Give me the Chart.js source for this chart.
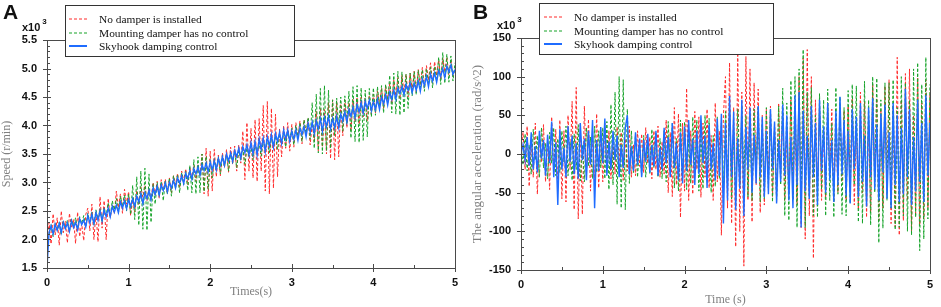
<!DOCTYPE html>
<html>
<head>
<meta charset="utf-8">
<script src="https://cdn.jsdelivr.net/npm/chart.js@4.4.1/dist/chart.umd.min.js"></script>
<style>
  body { margin: 0; background: #fff; }
  #wrap { position: relative; width: 941px; height: 307px; overflow: hidden; }
  canvas { position: absolute; top: 0; }
  .tag { position: absolute; font: bold 21px "Liberation Sans", Arial, sans-serif; color: #111; }
  .mult { position: absolute; font: bold 11px "Liberation Sans", Arial, sans-serif; color: #111; }
  .mult sup { font-size: 8px; position: relative; top: -2px; margin-left: 2px; }
  .legend { position: absolute; background: #fff; border: 1px solid #333; box-sizing: border-box; }
  .legend .row { position: absolute; height: 14px; display: flex; align-items: center;
    font: 11.4px "Liberation Serif", "Times New Roman", serif; color: #111; white-space: nowrap; }
  .legend svg { display: block; }
</style>
</head>
<body>
<div id="wrap">
  <canvas id="speed" width="470" height="307" style="left:0"></canvas>
  <canvas id="accel" width="471" height="307" style="left:470px"></canvas>

  <div class="tag" style="left:3px;top:0px">A</div>
  <div class="tag" style="left:473px;top:0px">B</div>
  <div class="mult" style="left:22px;top:19px">x10<sup>3</sup></div>
  <div class="mult" style="left:497px;top:17px">x10<sup>3</sup></div>

  <div class="legend" style="left:65px;top:5px;width:230px;height:52px">
    <div class="row" style="left:3px;top:6px"><svg width="18" height="4"><line x1="0" y1="2" x2="18" y2="2" stroke="#ff2a2a" stroke-dasharray="3 2"/></svg><span style="margin-left:12px">No damper is installed</span></div>
    <div class="row" style="left:3px;top:20px"><svg width="18" height="4"><line x1="0" y1="2" x2="18" y2="2" stroke="#16a329" stroke-dasharray="3 2"/></svg><span style="margin-left:12px">Mounting damper has no control</span></div>
    <div class="row" style="left:3px;top:33px"><svg width="18" height="4"><line x1="0" y1="2" x2="18" y2="2" stroke="#1f6cff" stroke-width="2"/></svg><span style="margin-left:12px">Skyhook damping control</span></div>
  </div>
  <div class="legend" style="left:539px;top:3px;width:235px;height:52px">
    <div class="row" style="left:4px;top:6px"><svg width="18" height="4"><line x1="0" y1="2" x2="18" y2="2" stroke="#ff2a2a" stroke-dasharray="3 2"/></svg><span style="margin-left:12px">No damper is installed</span></div>
    <div class="row" style="left:4px;top:20px"><svg width="18" height="4"><line x1="0" y1="2" x2="18" y2="2" stroke="#16a329" stroke-dasharray="3 2"/></svg><span style="margin-left:12px">Mounting damper has no control</span></div>
    <div class="row" style="left:4px;top:33px"><svg width="18" height="4"><line x1="0" y1="2" x2="18" y2="2" stroke="#1f6cff" stroke-width="2"/></svg><span style="margin-left:12px">Skyhook damping control</span></div>
  </div>
</div>

<script>
// sampling grid, 0..5 s every 0.025 s (201 samples)
const times = Array.from({length: 201}, (_, i) => +(i * 0.025).toFixed(3));

// panel A: speed, x10^3 r/min (one row = 0.5 s)
const speedNoDamper = [
  2.00, 2.30, 1.92, 2.45, 2.08, 2.38, 1.90, 2.50, 2.12, 2.32, 1.94, 2.46, 2.20, 2.36, 1.93, 2.48, 2.05, 2.28, 1.98, 2.44,
  2.55, 2.15, 2.62, 2.00, 2.48, 1.96, 2.75, 2.20, 2.68, 2.00, 2.72, 2.38, 2.60, 2.45, 2.85, 2.56, 2.80, 2.46, 2.88, 2.62,
  2.84, 2.42, 2.70, 2.48, 2.86, 2.60, 2.92, 2.74, 2.95, 2.68, 2.88, 2.70, 3.00, 2.78, 3.02, 2.72, 3.05, 2.86, 3.06, 2.80,
  3.08, 2.82, 3.12, 2.96, 3.16, 2.90, 3.20, 3.02, 3.24, 2.96, 3.28, 3.06, 3.30, 3.02, 3.32, 3.12, 3.50, 2.80, 3.60, 2.76,
  3.55, 2.85, 3.58, 3.10, 3.48, 3.12, 3.52, 3.26, 3.58, 3.18, 3.62, 3.32, 3.64, 3.20, 3.66, 3.34, 3.90, 3.05, 4.05, 3.20,
  3.95, 3.08, 4.10, 3.02, 4.12, 3.20, 4.35, 2.85, 4.42, 2.80, 4.30, 2.90, 4.20, 3.10, 3.95, 3.45, 4.00, 3.60, 4.05, 3.55,
  4.02, 3.62, 4.05, 3.78, 4.08, 3.68, 4.10, 3.84, 4.12, 3.66, 4.04, 3.72, 4.25, 3.55, 4.30, 3.62, 4.28, 3.50, 4.40, 3.42,
  4.45, 3.40, 4.42, 3.45, 4.38, 3.82, 4.45, 3.96, 4.40, 3.90, 4.46, 4.06, 4.48, 4.02, 4.50, 4.15, 4.48, 4.08, 4.52, 4.20,
  4.55, 4.22, 4.60, 4.36, 4.65, 4.30, 4.70, 4.44, 4.74, 4.38, 4.80, 4.52, 4.84, 4.46, 4.88, 4.58, 4.90, 4.50, 4.92, 4.62,
  4.95, 4.58, 4.98, 4.72, 5.02, 4.66, 5.05, 4.80, 5.10, 4.74, 5.12, 4.88, 5.15, 4.80, 5.18, 4.94, 5.20, 4.88, 5.16, 4.86,
  5.00
];
const speedPassive = [
  2.00, 2.08, 2.26, 2.05, 2.28, 2.16, 2.30, 2.08, 2.32, 2.20, 2.34, 2.14, 2.36, 2.24, 2.38, 2.18, 2.40, 2.28, 2.42, 2.22,
  2.46, 2.30, 2.48, 2.26, 2.52, 2.36, 2.54, 2.30, 2.56, 2.42, 2.64, 2.40, 2.68, 2.52, 2.72, 2.46, 2.76, 2.58, 2.78, 2.50,
  2.80, 2.44, 2.95, 2.35, 3.10, 2.25, 3.20, 2.18, 3.25, 2.16, 3.15, 2.30, 2.98, 2.62, 3.00, 2.76, 3.02, 2.68, 3.04, 2.80,
  3.08, 2.76, 3.12, 2.90, 3.14, 2.82, 3.18, 2.96, 3.20, 2.86, 3.30, 2.82, 3.40, 2.80, 3.45, 2.82, 3.50, 2.84, 3.46, 2.88,
  3.40, 3.08, 3.42, 3.22, 3.45, 3.15, 3.48, 3.28, 3.50, 3.20, 3.52, 3.34, 3.55, 3.26, 3.56, 3.40, 3.58, 3.32, 3.60, 3.46,
  3.64, 3.40, 3.68, 3.52, 3.70, 3.46, 3.74, 3.58, 3.76, 3.52, 3.78, 3.64, 3.82, 3.58, 3.84, 3.70, 3.86, 3.62, 3.90, 3.74,
  3.95, 3.66, 4.00, 3.80, 4.05, 3.72, 4.10, 3.86, 4.14, 3.76, 4.40, 3.60, 4.55, 3.52, 4.65, 3.50, 4.70, 3.56, 4.62, 3.60,
  4.45, 3.82, 4.48, 3.96, 4.50, 3.90, 4.52, 4.02, 4.60, 3.78, 4.68, 3.72, 4.70, 3.70, 4.66, 3.74, 4.62, 3.80, 4.65, 4.15,
  4.66, 4.18, 4.68, 4.32, 4.70, 4.22, 4.72, 4.40, 4.88, 4.22, 4.92, 4.20, 4.95, 4.18, 4.94, 4.22, 4.90, 4.30, 4.92, 4.52,
  4.95, 4.54, 4.97, 4.66, 4.98, 4.60, 5.00, 4.72, 5.02, 4.66, 5.04, 4.78, 5.20, 4.72, 5.28, 4.74, 5.25, 4.76, 5.22, 4.78,
  5.10
];
const speedSkyhook = [
  1.50, 2.12, 2.24, 2.10, 2.27, 2.16, 2.28, 2.12, 2.30, 2.19, 2.29, 2.14, 2.33, 2.21, 2.30, 2.17, 2.36, 2.26, 2.34, 2.22,
  2.42, 2.29, 2.44, 2.28, 2.47, 2.34, 2.50, 2.33, 2.52, 2.40, 2.55, 2.40, 2.58, 2.48, 2.60, 2.47, 2.66, 2.55, 2.68, 2.54,
  2.70, 2.58, 2.72, 2.58, 2.76, 2.66, 2.80, 2.63, 2.82, 2.72, 2.86, 2.70, 2.90, 2.79, 2.93, 2.78, 2.96, 2.86, 2.99, 2.84,
  3.00, 2.90, 3.04, 2.90, 3.08, 2.99, 3.12, 2.98, 3.16, 3.07, 3.20, 3.06, 3.24, 3.15, 3.27, 3.13, 3.31, 3.21, 3.34, 3.19,
  3.36, 3.22, 3.38, 3.22, 3.42, 3.30, 3.45, 3.30, 3.50, 3.38, 3.52, 3.37, 3.56, 3.45, 3.60, 3.43, 3.63, 3.52, 3.66, 3.48,
  3.70, 3.50, 3.72, 3.48, 3.76, 3.58, 3.78, 3.54, 3.80, 3.64, 3.84, 3.62, 3.86, 3.72, 3.88, 3.68, 3.92, 3.76, 3.92, 3.72,
  3.90, 3.76, 3.92, 3.74, 3.96, 3.84, 3.98, 3.80, 4.04, 3.88, 4.06, 3.86, 4.08, 3.94, 4.12, 3.90, 4.14, 3.98, 4.16, 3.94,
  4.12, 3.96, 4.16, 3.96, 4.20, 4.08, 4.24, 4.06, 4.28, 4.16, 4.32, 4.14, 4.36, 4.24, 4.40, 4.22, 4.42, 4.30, 4.44, 4.26,
  4.42, 4.28, 4.46, 4.28, 4.50, 4.38, 4.54, 4.36, 4.58, 4.46, 4.62, 4.46, 4.66, 4.56, 4.68, 4.54, 4.72, 4.62, 4.74, 4.58,
  4.74, 4.62, 4.78, 4.60, 4.82, 4.70, 4.86, 4.68, 4.90, 4.78, 4.92, 4.76, 4.96, 4.86, 5.00, 4.84, 5.04, 4.94, 5.06, 4.90,
  4.98
];

// panel B: angular acceleration, x10^3 rad/s^2
const accNoDamper = [
  5, 28, -20, 36, -42, 15, -30, 40, -52, 22, -10, 38, -36, 18, -46, 48, -24, 32, -40, 44,
  -58, 30, -62, 50, -20, 68, -72, 86, -84, 40, -78, 62, -28, 45, -48, 24, -38, 52, -44, 30,
  -36, 40, -18, 30, -32, 14, -26, 35, -10, 28, -34, 20, -22, 36, -30, 12, -28, 30, -16, 26,
  -24, 34, -12, 22, -32, 30, -20, 36, -30, 16, -26, 44, -50, 28, -55, 60, -40, 52, -82, 40,
  -48, 85, -60, 30, -52, 55, -20, 48, -56, 40, -30, 58, -44, 24, -60, 66, -36, 30, -105, 50,
  100, -70, 118, -90, 60, -120, 128, -100, 80, -145, 126, -60, 110, -88, 92, -40, 84, -76, 50, -66,
  58, -30, 62, -55, 40, -62, 66, -24, 54, -60, 30, -50, 70, -58, 46, -66, 100, -95, 124, -110,
  135, -80, 100, -135, 70, -44, 62, -60, 30, -56, 66, -28, 58, -62, 40, -50, 64, -36, 56, -60,
  62, -40, 72, -66, 36, -72, 80, -50, 68, -82, 44, -76, 90, -30, 72, -86, 58, -70, 88, -46,
  96, -90, 60, -94, 125, -105, 70, -86, 104, -60, 110, -100, 50, -80, 98, -92, 66, -84, 96, -70,
  80
];
const accPassive = [
  10, -14, 26, -22, 12, -26, 32, -8, 24, -30, 34, -18, 14, -32, 28, -12, 34, -28, 20, -24,
  30, -10, 36, -28, 16, -34, 26, -20, 38, -35, 12, -36, 34, -16, 22, -32, 36, -24, 30, -18,
  34, -32, 42, -46, 64, -40, 80, -65, 100, -70, 96, -72, 58, -38, 30, -24, 26, -30, 14, -28,
  24, -30, 12, -26, 32, -18, 28, -30, 20, -32, 30, -36, 42, -24, 40, -44, 20, -48, 44, -30,
  42, -46, 20, -38, 48, -22, 44, -48, 30, -45, 50, -28, 46, -50, 24, -42, 48, -32, 40, -44,
  55, -38, 60, -58, 30, -60, 58, -40, 62, -30, 50, -56, 36, -60, 58, -28, 60, -62, 40, -58,
  60, -44, 58, -62, 36, -58, 62, -40, 85, -80, 66, -86, 95, -60, 100, -95, 110, -70, 135, -95,
  80, -56, 86, -80, 50, -82, 78, -46, 70, -80, 84, -60, 40, -82, 86, -52, 74, -78, 60, -80,
  82, -64, 90, -40, 88, -88, 56, -90, 94, -66, 70, -92, 100, -50, 98, -115, 70, -96, 92, -60,
  92, -70, 96, -98, 60, -95, 100, -80, 92, -100, 70, -105, 110, -82, 118, -125, 90, -110, 125, -84,
  90
];
const accSkyhook = [
  0, 12, -8, 22, -15, 28, -20, 10, -24, 30, -6, 18, -28, 25, -12, 42, -30, 15, -66, 32,
  -20, 8, -30, 36, -10, 24, -26, 14, -32, 40, -8, 20, -34, 30, -14, 44, -70, 18, -22, 35,
  -12, 46, -28, 16, -20, 30, -8, 24, -30, 12, -18, 34, 50, -26, 10, -22, 28, -14, 20, -30,
  18, -10, 26, -24, 12, -16, 30, -28, 8, -20, 34, -12, 22, -30, 40, -18, 14, -34, 28, -38,
  36, -22, 44, -14, 20, -40, 30, -26, 50, -12, 24, -44, 38, -20, 14, -34, 46, -28, 52, -90,
  40, -60, 75, -30, 55, -72, 20, -45, 70, -80, 35, -20, 60, -50, 25, -38, 62, -30, 48, -56,
  30, -52, 58, -20, 42, -64, 18, -36, 64, -28, 50, -60, 22, -70, 76, -40, 80, -95, 56, -48,
  24, -58, 62, -30, 40, -66, 70, -22, 36, -50, 66, -34, 18, -62, 56, -40, 74, -26, 44, -54,
  30, -64, 58, -20, 48, -56, 66, -36, 24, -68, 60, -30, 72, -46, 38, -60, 52, -24, 64, -58,
  28, -70, 66, -40, 50, -62, 34, -52, 84, -30, 58, -66, 22, -48, 70, -36, 40, -62, 76, -28,
  40
];

const seriesNames = ['No damper is installed', 'Mounting damper has no control', 'Skyhook damping control'];
const seriesColors = ['#ff2a2a', '#16a329', '#1f6cff'];

const tickFont = { family: '"Liberation Sans", Arial, sans-serif', size: 11, weight: 'bold' };
const titleFont = { family: '"Liberation Serif", "Times New Roman", serif', size: 12 };

// box round the plot plus major/minor tick marks, drawn from the scales
const frameTicks = {
  id: 'frameTicks',
  afterDatasetsDraw(chart, args, opts) {
    const { ctx, chartArea: a, scales: { x, y } } = chart;
    ctx.save();
    ctx.strokeStyle = '#4a4a4a';
    ctx.lineWidth = 1;
    ctx.strokeRect(Math.round(a.left) + 0.5, Math.round(a.top) + 0.5,
      Math.round(a.right - a.left), Math.round(a.bottom - a.top));
    ctx.beginPath();
    for (let v = y.min; v <= y.max + 1e-9; v += opts.yMinor) {
      const p = Math.round(y.getPixelForValue(v)) + 0.5;
      const major = Math.abs(v / opts.yMajor - Math.round(v / opts.yMajor)) < 1e-6;
      ctx.moveTo(a.left - (major ? 4 : 0), p);
      ctx.lineTo(a.left + (major ? 4 : 3), p);
    }
    for (let v = x.min; v <= x.max + 1e-9; v += 0.5) {
      const p = Math.round(x.getPixelForValue(v)) + 0.5;
      const major = Math.abs(v - Math.round(v)) < 1e-6;
      ctx.moveTo(p, a.bottom + (major ? 4 : 0));
      ctx.lineTo(p, a.bottom - (major ? 4 : 3));
    }
    ctx.stroke();
    ctx.restore();
  }
};

function makeDatasets(lists) {
  // red at the back, blue on top
  return lists.map((vals, k) => ({
    label: seriesNames[k],
    data: times.map((t, i) => ({ x: t, y: vals[i] })),
    borderColor: seriesColors[k],
    borderWidth: k === 2 ? 1.4 : 1,
    borderDash: k === 2 ? [] : [3, 2],
    pointRadius: 0,
    tension: 0,
    order: 3 - k
  }));
}

function makeChart(id, lists, o) {
  return new Chart(document.getElementById(id), {
    type: 'line',
    data: { datasets: makeDatasets(lists) },
    plugins: [frameTicks],
    options: {
      responsive: false,
      animation: false,
      devicePixelRatio: 1,
      layout: { padding: o.padding },
      plugins: {
        legend: { display: false },
        tooltip: { enabled: false },
        frameTicks: { yMajor: o.yStep, yMinor: o.yStep / 5 }
      },
      scales: {
        x: {
          type: 'linear', min: 0, max: 5,
          grid: { display: false, drawTicks: false }, border: { display: false },
          ticks: { stepSize: 1, color: '#111', font: tickFont, padding: 8, maxRotation: 0, autoSkip: false },
          title: { display: true, text: o.xTitle, color: '#808080', font: titleFont, padding: o.xTitlePad },
          afterFit: s => { s.height = o.xHeight; }
        },
        y: {
          min: o.yMin, max: o.yMax,
          grid: { display: false, drawTicks: false }, border: { display: false },
          ticks: { stepSize: o.yStep, color: '#111', font: tickFont, padding: 10, autoSkip: false,
            callback: v => o.yFmt(v) },
          title: { display: true, text: o.yTitle, color: '#808080',
            font: Object.assign({}, titleFont, { size: o.yTitleSize }), padding: { top: 0, bottom: 0 } },
          afterFit: s => { s.width = o.yWidth; }
        }
      }
    }
  });
}

makeChart('speed', [speedNoDamper, speedPassive, speedSkyhook], {
  padding: { left: 0, top: 40, right: 15, bottom: 0 },
  xHeight: 39, yWidth: 47,
  yMin: 1.5, yMax: 5.5, yStep: 0.5, yFmt: v => v.toFixed(1),
  xTitle: 'Times(s)', xTitlePad: { top: 0, bottom: 8 },
  yTitle: 'Speed (r/min)', yTitleSize: 12
});

makeChart('accel', [accNoDamper, accPassive, accSkyhook], {
  padding: { left: 0, top: 38, right: 5, bottom: 0 },
  xHeight: 37, yWidth: 51,
  yMin: -150, yMax: 150, yStep: 50, yFmt: v => String(Math.round(v)),
  xTitle: 'Time (s)', xTitlePad: { top: 0, bottom: 0 },
  yTitle: 'The angular acceleration (rad/s^2)', yTitleSize: 13
});
</script>
</body>
</html>
